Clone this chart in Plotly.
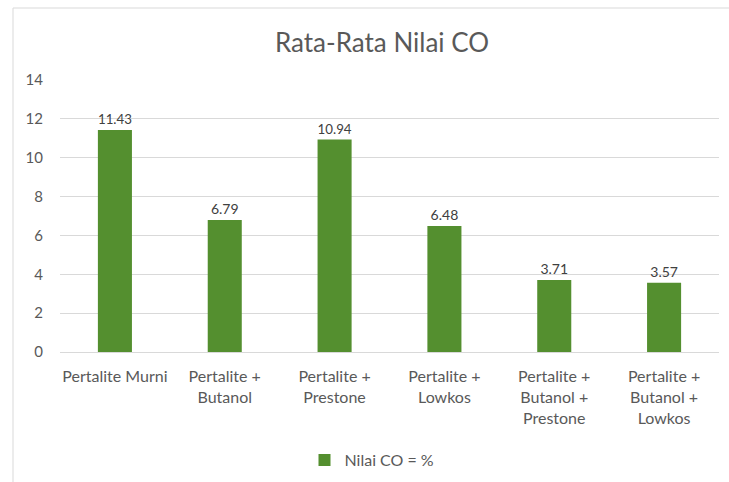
import plotly.graph_objects as go

categories = ["Pertalite Murni", "Pertalite +<br>Butanol", "Pertalite +<br>Prestone",
              "Pertalite +<br>Lowkos", "Pertalite +<br>Butanol +<br>Prestone",
              "Pertalite +<br>Butanol +<br>Lowkos"]
values = [11.43, 6.79, 10.94, 6.48, 3.71, 3.57]
labels = ["11.43", "6.79", "10.94", "6.48", "3.71", "3.57"]
series_name = "Nilai CO = %"
tick_vals = [0, 2, 4, 6, 8, 10, 12, 14]

W, H = 729, 482
L, R, T, B = 60, 10, 80, 130
pw, ph = W - L - R, H - T - B

def px_x(p):
    return (p - L) / pw

def px_y(p):
    return (H - B - p) / ph

fig = go.Figure()
fig.add_trace(go.Bar(
    x=categories, y=values, name=series_name,
    marker=dict(color="#548f2f", line=dict(width=0)),
    width=0.31,
    text=labels, textposition="outside", cliponaxis=False,
    textfont=dict(family="Lato, sans-serif", size=14, color="#404040"),
    showlegend=True,
))

fig.update_layout(
    width=W, height=H,
    margin=dict(l=L, r=R, t=T, b=B, autoexpand=False),
    paper_bgcolor="white", plot_bgcolor="white",
    font=dict(family="Lato, sans-serif", color="#595959", size=12),
    title=dict(text="Rata-Rata Nilai CO", x=382 / W, xanchor="center",
               y=1 - 43 / H, yanchor="middle",
               font=dict(size=26, color="#595959", family="Lato, sans-serif")),
    xaxis=dict(showgrid=False, showline=True, linecolor="#d9d9d9", linewidth=1,
               ticks="", tickfont=dict(size=16, color="#595959"), ticklabelstandoff=10,
               automargin=False),
    yaxis=dict(range=[0, 14], tickvals=tick_vals, showgrid=True, gridcolor="#d9d9d9",
               gridwidth=1, zeroline=False, ticks="", showline=False,
               tickfont=dict(size=15, color="#595959"), ticklabelstandoff=16,
               automargin=False),
    legend=dict(orientation="h", x=px_x(372), xanchor="center", y=px_y(460), yanchor="middle",
                font=dict(size=16, color="#595959"), itemwidth=30),
    bargap=0.69,
    shapes=[dict(type="rect", xref="paper", yref="paper",
                 x0=px_x(13), x1=px_x(740), y0=px_y(500), y1=px_y(8),
                 line=dict(color="#d9d9d9", width=1), fillcolor="rgba(0,0,0,0)", layer="below")],
)

fig.write_html("out.html")
